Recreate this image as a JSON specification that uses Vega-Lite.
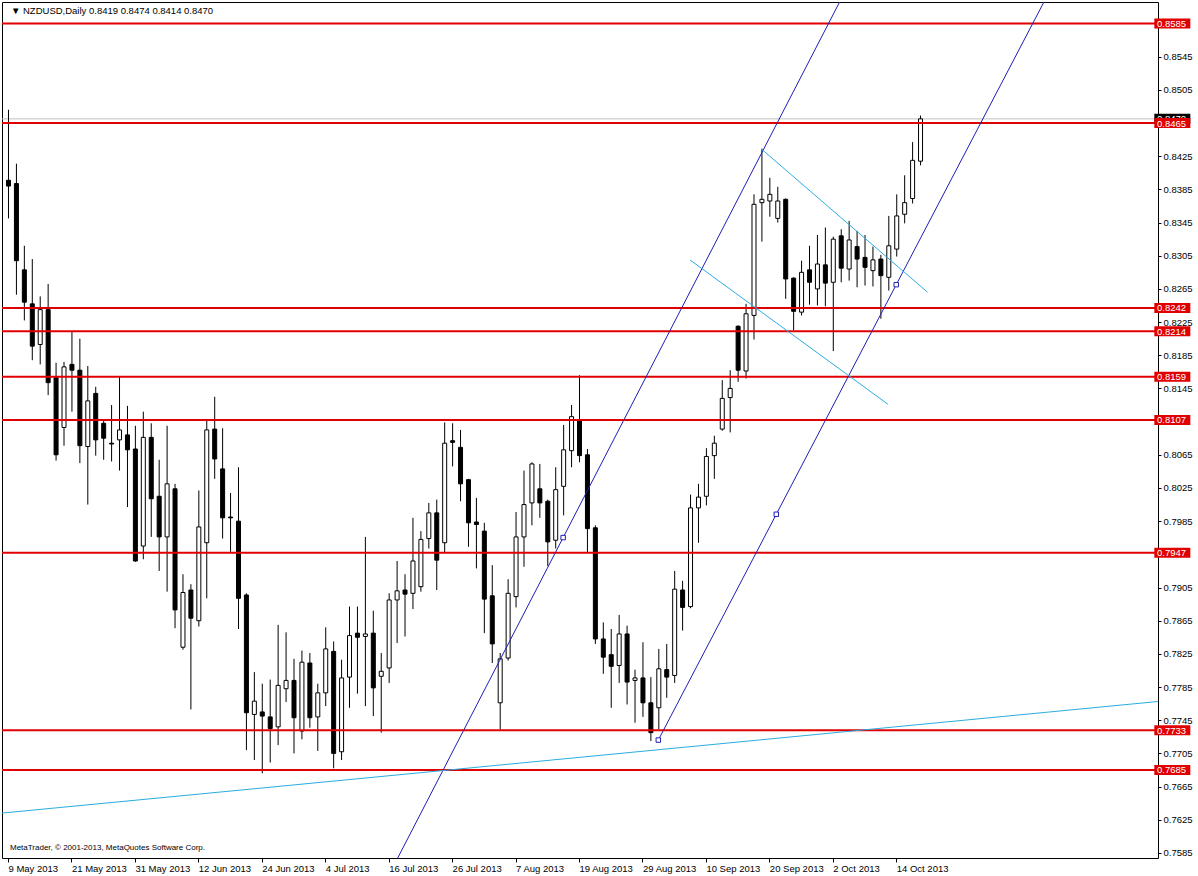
{
  "$schema": "https://vega.github.io/schema/vega-lite/v6.json",
  "width": 1156,
  "height": 856,
  "autosize": "none",
  "padding": {"left": 2, "top": 2, "right": 40, "bottom": 18},
  "background": "#ffffff",
  "config": {
    "view": {"stroke": "#000000", "strokeWidth": 1},
    "font": "Liberation Sans",
    "axis": {"labelFont": "Liberation Sans", "labelFontSize": 9.5, "labelColor": "#000000", "tickColor": "#000000", "domain": false, "grid": false, "title": null, "labelOverlap": false}
  },
  "datasets": {
    "bars": [
      {"i":0,"o":0.8396,"h":0.8481,"l":0.8350,"c":0.8389},
      {"i":1,"o":0.8392,"h":0.8416,"l":0.8258,"c":0.8299},
      {"i":2,"o":0.8288,"h":0.8317,"l":0.8227,"c":0.8249},
      {"i":3,"o":0.8247,"h":0.8301,"l":0.8179,"c":0.8196},
      {"i":4,"o":0.8198,"h":0.8256,"l":0.8174,"c":0.8240},
      {"i":5,"o":0.8240,"h":0.8271,"l":0.8137,"c":0.8152},
      {"i":6,"o":0.8158,"h":0.8176,"l":0.8058,"c":0.8065},
      {"i":7,"o":0.8098,"h":0.8177,"l":0.8076,"c":0.8171},
      {"i":8,"o":0.8174,"h":0.8213,"l":0.8117,"c":0.8167},
      {"i":9,"o":0.8167,"h":0.8205,"l":0.8055,"c":0.8076},
      {"i":10,"o":0.8075,"h":0.8172,"l":0.8005,"c":0.8130},
      {"i":11,"o":0.8139,"h":0.8147,"l":0.8064,"c":0.8083},
      {"i":12,"o":0.8103,"h":0.8108,"l":0.8059,"c":0.8085},
      {"i":13,"o":0.8079,"h":0.8125,"l":0.8057,"c":0.8078},
      {"i":14,"o":0.8083,"h":0.8159,"l":0.8046,"c":0.8095},
      {"i":15,"o":0.8089,"h":0.8124,"l":0.8002,"c":0.8071},
      {"i":16,"o":0.8072,"h":0.8100,"l":0.7936,"c":0.7937},
      {"i":17,"o":0.7955,"h":0.8117,"l":0.7939,"c":0.8086},
      {"i":18,"o":0.8086,"h":0.8103,"l":0.7966,"c":0.8012},
      {"i":19,"o":0.8015,"h":0.8059,"l":0.7925,"c":0.7966},
      {"i":20,"o":0.7966,"h":0.8100,"l":0.7900,"c":0.8030},
      {"i":21,"o":0.8024,"h":0.8030,"l":0.7856,"c":0.7878},
      {"i":22,"o":0.7833,"h":0.7921,"l":0.7830,"c":0.7899},
      {"i":23,"o":0.7902,"h":0.7909,"l":0.7758,"c":0.7868},
      {"i":24,"o":0.7865,"h":0.8022,"l":0.7858,"c":0.7978},
      {"i":25,"o":0.7959,"h":0.8107,"l":0.7892,"c":0.8095},
      {"i":26,"o":0.8096,"h":0.8135,"l":0.8036,"c":0.8060},
      {"i":27,"o":0.8048,"h":0.8097,"l":0.7964,"c":0.7989},
      {"i":28,"o":0.7990,"h":0.8019,"l":0.7948,"c":0.7989},
      {"i":29,"o":0.7985,"h":0.8050,"l":0.7855,"c":0.7892},
      {"i":30,"o":0.7896,"h":0.7898,"l":0.7709,"c":0.7754},
      {"i":31,"o":0.7752,"h":0.7803,"l":0.7697,"c":0.7768},
      {"i":32,"o":0.7755,"h":0.7789,"l":0.7681,"c":0.7750},
      {"i":33,"o":0.7749,"h":0.7794,"l":0.7694,"c":0.7735},
      {"i":34,"o":0.7737,"h":0.7860,"l":0.7715,"c":0.7787},
      {"i":35,"o":0.7783,"h":0.7851,"l":0.7767,"c":0.7793},
      {"i":36,"o":0.7793,"h":0.7819,"l":0.7705,"c":0.7748},
      {"i":37,"o":0.7732,"h":0.7829,"l":0.7722,"c":0.7815},
      {"i":38,"o":0.7814,"h":0.7826,"l":0.7736,"c":0.7748},
      {"i":39,"o":0.7749,"h":0.7789,"l":0.7708,"c":0.7778},
      {"i":40,"o":0.7778,"h":0.7857,"l":0.7762,"c":0.7831},
      {"i":41,"o":0.7828,"h":0.7840,"l":0.7687,"c":0.7705},
      {"i":42,"o":0.7707,"h":0.7818,"l":0.7697,"c":0.7796},
      {"i":43,"o":0.7797,"h":0.7882,"l":0.7760,"c":0.7847},
      {"i":44,"o":0.7850,"h":0.7882,"l":0.7777,"c":0.7845},
      {"i":45,"o":0.7846,"h":0.7966,"l":0.7762,"c":0.7849},
      {"i":46,"o":0.7850,"h":0.7877,"l":0.7750,"c":0.7784},
      {"i":47,"o":0.7798,"h":0.7826,"l":0.7730,"c":0.7804},
      {"i":48,"o":0.7808,"h":0.7898,"l":0.7790,"c":0.7890},
      {"i":49,"o":0.7890,"h":0.7937,"l":0.7838,"c":0.7901},
      {"i":50,"o":0.7902,"h":0.7921,"l":0.7846,"c":0.7897},
      {"i":51,"o":0.7898,"h":0.7989,"l":0.7879,"c":0.7937},
      {"i":52,"o":0.7906,"h":0.7973,"l":0.7900,"c":0.7963},
      {"i":53,"o":0.7964,"h":0.8007,"l":0.7952,"c":0.7995},
      {"i":54,"o":0.7995,"h":0.8011,"l":0.7902,"c":0.7938},
      {"i":55,"o":0.7959,"h":0.8104,"l":0.7947,"c":0.8079},
      {"i":56,"o":0.8082,"h":0.8103,"l":0.8051,"c":0.8080},
      {"i":57,"o":0.8074,"h":0.8095,"l":0.8009,"c":0.8030},
      {"i":58,"o":0.8035,"h":0.8036,"l":0.7954,"c":0.7983},
      {"i":59,"o":0.7984,"h":0.8013,"l":0.7928,"c":0.7981},
      {"i":60,"o":0.7973,"h":0.7983,"l":0.7850,"c":0.7891},
      {"i":61,"o":0.7895,"h":0.7932,"l":0.7814,"c":0.7837},
      {"i":62,"o":0.7766,"h":0.7826,"l":0.7734,"c":0.7819},
      {"i":63,"o":0.7820,"h":0.7915,"l":0.7817,"c":0.7898},
      {"i":64,"o":0.7894,"h":0.7996,"l":0.7881,"c":0.7966},
      {"i":65,"o":0.7966,"h":0.8046,"l":0.7930,"c":0.8005},
      {"i":66,"o":0.8007,"h":0.8056,"l":0.7980,"c":0.8054},
      {"i":67,"o":0.8024,"h":0.8054,"l":0.7989,"c":0.8007},
      {"i":68,"o":0.8009,"h":0.8011,"l":0.7931,"c":0.7960},
      {"i":69,"o":0.7962,"h":0.8050,"l":0.7952,"c":0.8023},
      {"i":70,"o":0.8027,"h":0.8101,"l":0.7992,"c":0.8071},
      {"i":71,"o":0.8070,"h":0.8125,"l":0.8050,"c":0.8111},
      {"i":72,"o":0.8107,"h":0.8161,"l":0.8056,"c":0.8064},
      {"i":73,"o":0.8065,"h":0.8072,"l":0.7947,"c":0.7976},
      {"i":74,"o":0.7977,"h":0.7980,"l":0.7837,"c":0.7843},
      {"i":75,"o":0.7843,"h":0.7863,"l":0.7801,"c":0.7821},
      {"i":76,"o":0.7824,"h":0.7855,"l":0.7760,"c":0.7810},
      {"i":77,"o":0.7811,"h":0.7872,"l":0.7790,"c":0.7849},
      {"i":78,"o":0.7849,"h":0.7859,"l":0.7764,"c":0.7791},
      {"i":79,"o":0.7793,"h":0.7806,"l":0.7742,"c":0.7796},
      {"i":80,"o":0.7796,"h":0.7839,"l":0.7749,"c":0.7766},
      {"i":81,"o":0.7766,"h":0.7797,"l":0.7720,"c":0.7730},
      {"i":82,"o":0.7760,"h":0.7831,"l":0.7734,"c":0.7807},
      {"i":83,"o":0.7806,"h":0.7837,"l":0.7772,"c":0.7797},
      {"i":84,"o":0.7799,"h":0.7925,"l":0.7790,"c":0.7903},
      {"i":85,"o":0.7902,"h":0.7913,"l":0.7853,"c":0.7881},
      {"i":86,"o":0.7882,"h":0.8017,"l":0.7880,"c":0.8001},
      {"i":87,"o":0.8001,"h":0.8030,"l":0.7959,"c":0.8014},
      {"i":88,"o":0.8015,"h":0.8073,"l":0.8004,"c":0.8063},
      {"i":89,"o":0.8064,"h":0.8088,"l":0.8036,"c":0.8079},
      {"i":90,"o":0.8096,"h":0.8155,"l":0.8094,"c":0.8133},
      {"i":91,"o":0.8134,"h":0.8167,"l":0.8092,"c":0.8145},
      {"i":92,"o":0.8220,"h":0.8221,"l":0.8153,"c":0.8167},
      {"i":93,"o":0.8166,"h":0.8247,"l":0.8157,"c":0.8235},
      {"i":94,"o":0.8233,"h":0.8379,"l":0.8204,"c":0.8367},
      {"i":95,"o":0.8369,"h":0.8434,"l":0.8322,"c":0.8373},
      {"i":96,"o":0.8371,"h":0.8399,"l":0.8352,"c":0.8379},
      {"i":97,"o":0.8350,"h":0.8388,"l":0.8345,"c":0.8371},
      {"i":98,"o":0.8373,"h":0.8374,"l":0.8253,"c":0.8277},
      {"i":99,"o":0.8278,"h":0.8279,"l":0.8215,"c":0.8238},
      {"i":100,"o":0.8237,"h":0.8299,"l":0.8233,"c":0.8285},
      {"i":101,"o":0.8288,"h":0.8317,"l":0.8246,"c":0.8273},
      {"i":102,"o":0.8265,"h":0.8330,"l":0.8245,"c":0.8295},
      {"i":103,"o":0.8294,"h":0.8339,"l":0.8244,"c":0.8272},
      {"i":104,"o":0.8273,"h":0.8328,"l":0.8190,"c":0.8325},
      {"i":105,"o":0.8329,"h":0.8337,"l":0.8273,"c":0.8290},
      {"i":106,"o":0.8289,"h":0.8347,"l":0.8275,"c":0.8324},
      {"i":107,"o":0.8316,"h":0.8335,"l":0.8267,"c":0.8301},
      {"i":108,"o":0.8303,"h":0.8330,"l":0.8269,"c":0.8291},
      {"i":109,"o":0.8287,"h":0.8316,"l":0.8268,"c":0.8300},
      {"i":110,"o":0.8301,"h":0.8306,"l":0.8229,"c":0.8281},
      {"i":111,"o":0.8279,"h":0.8353,"l":0.8263,"c":0.8317},
      {"i":112,"o":0.8313,"h":0.8379,"l":0.8304,"c":0.8353},
      {"i":113,"o":0.8355,"h":0.8402,"l":0.8344,"c":0.8369},
      {"i":114,"o":0.8374,"h":0.8442,"l":0.8368,"c":0.8420},
      {"i":115,"o":0.8419,"h":0.8474,"l":0.8414,"c":0.8470}
    ],
    "levels": [
      {"p":0.8585},{"p":0.8465},{"p":0.8242},{"p":0.8214},{"p":0.8159},{"p":0.8107},{"p":0.7947},{"p":0.7733},{"p":0.7685}
    ],
    "bid": [{"p":0.8470}],
    "lines": [
      {"id":"A","k":"ch","i":48,"p":0.75578},{"id":"A","k":"ch","i":106,"p":0.8632},
      {"id":"B","k":"ch","i":82,"p":0.77211},{"id":"B","k":"ch","i":131,"p":0.86178},
      {"id":"C","k":"tr","i":-1,"p":0.76328},{"id":"C","k":"tr","i":146,"p":0.77685},
      {"id":"D","k":"tr","i":95.04,"p":0.84333},{"id":"D","k":"tr","i":115.96,"p":0.82609},
      {"id":"E","k":"tr","i":86,"p":0.82999},{"id":"E","k":"tr","i":110.96,"p":0.81259}
    ],
    "anchors": [
      {"i":70,"p":0.79652},{"i":82,"p":0.77211},{"i":96.875,"p":0.79933},{"i":112,"p":0.82701}
    ],
    "title": [
      {"t":"▼ NZDUSD,Daily  0.8419 0.8474 0.8414 0.8470","i":0.375,"p":0.86002}
    ],
    "copyright": [
      {"t":"MetaTrader, © 2001-2013, MetaQuotes Software Corp.","i":0.25,"p":0.75909}
    ]
  },
  "layer": [
    {
      "data": {"name": "bid"},
      "mark": {"type": "rule", "stroke": "#C0C0C0", "strokeWidth": 1},
      "encoding": {
        "y": {"field": "p", "type": "quantitative", "scale": {"domain": [0.75789, 0.86109], "nice": false, "zero": false},
          "axis": {"orient": "right", "values": [0.7585,0.7625,0.7665,0.7705,0.7745,0.7785,0.7825,0.7865,0.7905,0.7985,0.8025,0.8065,0.8145,0.8185,0.8225,0.8265,0.8305,0.8345,0.8385,0.8425,0.8505,0.8545], "tickCount": 100, "format": ".4f", "tickSize": 3, "labelPadding": 2, "labelAlign": "left", "labelBaseline": "middle", "labelOverlap": false, "labelBound": false, "labelFlush": false, "labelFontSize": 9.5}}
      }
    },
    {
      "data": {"name": "bars"},
      "mark": {"type": "rule", "stroke": "#000000", "strokeWidth": 1, "xOffset": 0.5},
      "encoding": {
        "x": {"field": "i", "type": "quantitative", "scale": {"domain": [-0.125, 144.375], "nice": false, "zero": false},
          "axis": {"orient": "bottom", "values": [0,8,16,24,32,40,48,56,64,72,80,88,96,104,112], "tickCount": 100, "tickSize": 4, "labelPadding": 1, "labelAlign": "left", "labelBaseline": "top", "labelDx": 1, "labelOverlap": false, "labelBound": false, "labelFlush": false, "labelFontSize": 9.5,
            "labelExpr": "['9 May 2013','21 May 2013','31 May 2013','12 Jun 2013','24 Jun 2013','4 Jul 2013','16 Jul 2013','26 Jul 2013','7 Aug 2013','19 Aug 2013','29 Aug 2013','10 Sep 2013','20 Sep 2013','2 Oct 2013','14 Oct 2013'][round(datum.value/8)]"}},
        "y": {"field": "l", "type": "quantitative",
          "axis": {"orient": "right", "values": [0.7585,0.7625,0.7665,0.7705,0.7745,0.7785,0.7825,0.7865,0.7905,0.7985,0.8025,0.8065,0.8145,0.8185,0.8225,0.8265,0.8305,0.8345,0.8385,0.8425,0.8505,0.8545], "tickCount": 100, "format": ".4f", "tickSize": 3, "labelPadding": 2, "labelAlign": "left", "labelBaseline": "middle", "labelOverlap": false, "labelBound": false, "labelFlush": false, "labelFontSize": 9.5}},
        "y2": {"field": "h"}
      }
    },
    {
      "data": {"name": "bars"},
      "mark": {"type": "bar", "width": 4, "stroke": "#000000", "strokeWidth": 1, "xOffset": 0.5},
      "encoding": {
        "x": {"field": "i", "type": "quantitative"},
        "y": {"field": "o", "type": "quantitative"},
        "y2": {"field": "c"},
        "fill": {"condition": {"test": "datum.c < datum.o", "value": "#000000"}, "value": "#ffffff"}
      }
    },
    {
      "data": {"name": "levels"},
      "mark": {"type": "rule", "stroke": "#E00000", "strokeWidth": 2},
      "encoding": {
        "y": {"field": "p", "type": "quantitative"}
      }
    },
    {
      "data": {"name": "lines"},
      "mark": {"type": "line", "strokeWidth": 1, "clip": true},
      "encoding": {
        "x": {"field": "i", "type": "quantitative"},
        "y": {"field": "p", "type": "quantitative"},
        "detail": {"field": "id", "type": "nominal"},
        "color": {"field": "k", "type": "nominal", "scale": {"domain": ["ch", "tr"], "range": ["#1E1EB4", "#2AACE2"]}, "legend": null}
      }
    },
    {
      "data": {"name": "anchors"},
      "mark": {"type": "point", "shape": "square", "size": 20, "filled": true, "fill": "#ffffff", "stroke": "#1E1EB4", "strokeWidth": 1, "opacity": 1},
      "encoding": {
        "x": {"field": "i", "type": "quantitative"},
        "y": {"field": "p", "type": "quantitative"}
      }
    },
    {
      "data": {"name": "bid"},
      "mark": {"type": "tick", "orient": "horizontal", "size": 36, "thickness": 10, "color": "#000000", "opacity": 1},
      "encoding": {
        "x": {"datum": 146.8125, "type": "quantitative"},
        "y": {"field": "p", "type": "quantitative"}
      }
    },
    {
      "data": {"name": "bid"},
      "mark": {"type": "text", "align": "left", "baseline": "middle", "fontSize": 9.5, "font": "Liberation Sans", "color": "#ffffff", "dy": 0.5},
      "encoding": {
        "x": {"datum": 144.875, "type": "quantitative"},
        "y": {"field": "p", "type": "quantitative"},
        "text": {"field": "p", "type": "quantitative", "format": ".4f"}
      }
    },
    {
      "data": {"name": "levels"},
      "mark": {"type": "tick", "orient": "horizontal", "size": 36, "thickness": 10, "color": "#E00000", "opacity": 1},
      "encoding": {
        "x": {"datum": 146.8125, "type": "quantitative"},
        "y": {"field": "p", "type": "quantitative"}
      }
    },
    {
      "data": {"name": "levels"},
      "mark": {"type": "text", "align": "left", "baseline": "middle", "fontSize": 9.5, "font": "Liberation Sans", "color": "#ffffff", "dy": 0.5},
      "encoding": {
        "x": {"datum": 144.875, "type": "quantitative"},
        "y": {"field": "p", "type": "quantitative"},
        "text": {"field": "p", "type": "quantitative", "format": ".4f"}
      }
    },
    {
      "data": {"name": "title"},
      "mark": {"type": "text", "align": "left", "baseline": "middle", "fontSize": 9.5, "font": "Liberation Sans", "color": "#000000"},
      "encoding": {
        "x": {"field": "i", "type": "quantitative"},
        "y": {"field": "p", "type": "quantitative"},
        "text": {"field": "t", "type": "nominal"}
      }
    },
    {
      "data": {"name": "copyright"},
      "mark": {"type": "text", "align": "left", "baseline": "middle", "fontSize": 8, "font": "Liberation Sans", "color": "#000000"},
      "encoding": {
        "x": {"field": "i", "type": "quantitative"},
        "y": {"field": "p", "type": "quantitative"},
        "text": {"field": "t", "type": "nominal"}
      }
    }
  ]
}
